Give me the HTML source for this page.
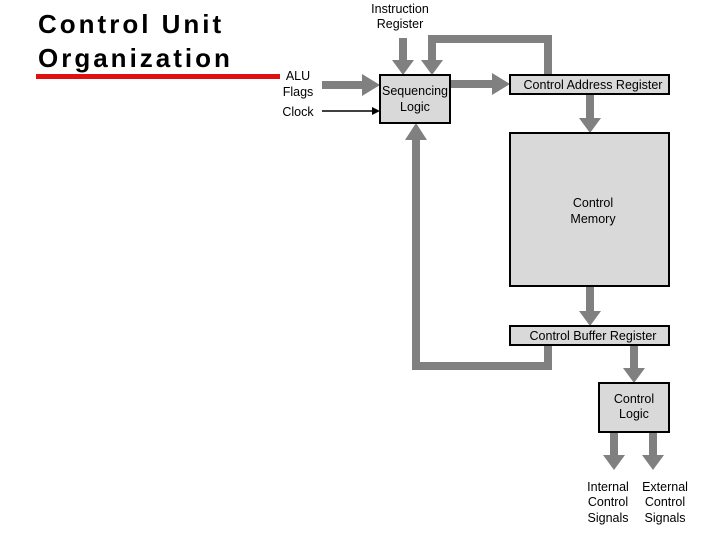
<!DOCTYPE html>
<html><head><style>
body{margin:0;width:720px;height:540px;background:#fff;overflow:hidden;font-family:"Liberation Sans",sans-serif}
.t{position:absolute;left:38px;top:7px;font-weight:bold;font-size:26px;line-height:34px;letter-spacing:3px;color:#000}
</style></head><body>
<div class="t">Control Unit<br>Organization</div>
<svg width="720" height="540" style="position:absolute;left:0;top:0" font-family="Liberation Sans, sans-serif" font-size="12.5">
<rect x="36" y="74" width="244" height="5" fill="#e01010"/>
<g fill="#808080" stroke="none">
<rect x="399" y="38" width="8" height="22"/><polygon points="392,60 414,60 403,75"/>
<rect x="544" y="35" width="8" height="41"/><rect x="428" y="35" width="124" height="8"/><rect x="428" y="35" width="8" height="25"/><polygon points="421,60 443,60 432,75"/>
<rect x="322" y="81" width="40" height="8"/><polygon points="362,74 362,96 380,85"/>
<rect x="450" y="80" width="42" height="8"/><polygon points="492,73 492,95 510,84"/>
<rect x="586" y="94" width="8" height="24"/><polygon points="579,118 601,118 590,133"/>
<rect x="586" y="286" width="8" height="25"/><polygon points="579,311 601,311 590,326"/>
<rect x="544" y="345" width="8" height="25"/><rect x="412" y="362" width="140" height="8"/><rect x="412" y="140" width="8" height="230"/><polygon points="405,140 427,140 416,123"/>
<rect x="630" y="345" width="8" height="23"/><polygon points="623,368 645,368 634,383"/>
<rect x="610" y="432" width="8" height="23"/><polygon points="603,455 625,455 614,470"/>
<rect x="649" y="432" width="8" height="23"/><polygon points="642,455 664,455 653,470"/>
</g>
<line x1="322" y1="111" x2="372" y2="111" stroke="#000" stroke-width="1.5"/><polygon points="372,107 380,111 372,115" fill="#000"/>
<g fill="#d9d9d9" stroke="#000" stroke-width="2">
<rect x="380" y="75" width="70" height="48"/>
<rect x="510" y="75" width="159" height="19"/>
<rect x="510" y="133" width="159" height="153"/>
<rect x="510" y="326" width="159" height="19"/>
<rect x="599" y="383" width="70" height="49"/>
</g>
<g fill="#000" text-anchor="middle">
<text x="400" y="13">Instruction</text><text x="400" y="28">Register</text>
<text x="298" y="80">ALU</text><text x="298" y="96">Flags</text><text x="298" y="116">Clock</text>
<text x="415" y="95">Sequencing</text><text x="415" y="111">Logic</text>
<text x="593" y="89">Control Address Register</text>
<text x="593" y="207">Control</text><text x="593" y="223">Memory</text>
<text x="593" y="340">Control Buffer Register</text>
<text x="634" y="403">Control</text><text x="634" y="418">Logic</text>
<text x="608" y="491">Internal</text><text x="608" y="506">Control</text><text x="608" y="522">Signals</text>
<text x="665" y="491">External</text><text x="665" y="506">Control</text><text x="665" y="522">Signals</text>
</g>
</svg>
</body></html>
